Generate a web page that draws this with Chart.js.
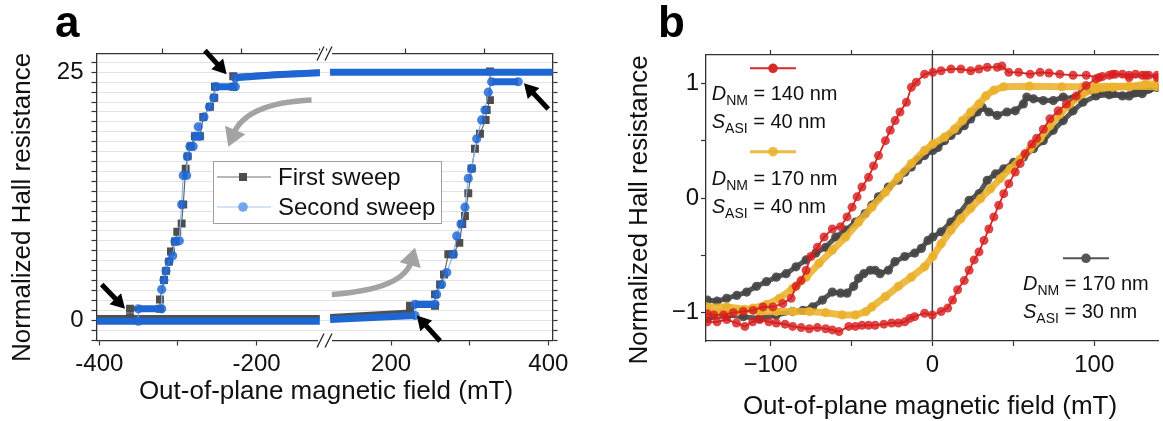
<!DOCTYPE html>
<html>
<head>
<meta charset="utf-8">
<title>Hall resistance hysteresis</title>
<script src="https://cdn.jsdelivr.net/npm/chart.js@4.4.1/dist/chart.umd.min.js"></script>
<style>
  html, body { margin: 0; padding: 0; background: #fff; }
  #wrap { position: relative; width: 1163px; height: 421px; overflow: hidden; }
  canvas { position: absolute; top: 0; }
  #panelA { left: 0; }
  #panelB { left: 580px; }
</style>
</head>
<body>
<div id="wrap">
  <canvas id="panelA" width="580" height="421"></canvas>
  <canvas id="panelB" width="583" height="421"></canvas>
</div>
<script>
const FONT = '"Liberation Sans", Arial, Helvetica, sans-serif';
Chart.defaults.font.family = FONT;
Chart.defaults.color = '#111';

// ---------- Panel a: [field (mT), normalized Hall resistance] ----------
const sweepNames = ['First sweep', 'Second sweep'];
// negative side of the broken axis
const firstLeft = [
  [-119.6, 25.05], [-175, 24.85], [-229.7, 24.6], [-229.7, 23.55], [-253, 23.55], [-253.9, 22.43],
  [-259.3, 21.52], [-267.8, 20.5], [-272, 18.55], [-278.4, 18.55], [-283.9, 17.53], [-287.7, 16.52],
  [-290.2, 15.27], [-293.3, 11.66], [-295.3, 9.76], [-300.9, 8.92], [-303.8, 7.94], [-308.9, 6.93],
  [-311.4, 5.91], [-315.2, 4.97], [-317.8, 4.05], [-322.9, 2.09], [-322.9, 1.15], [-361, 1.15],
  [-361, 0.3], [-403.6, 0.3], [-119.6, 0.3]
];
const secondLeft = [
  [-119.6, 24.95], [-175, 24.75], [-227, 24.45], [-227, 23.55], [-252, 23.55], [-254.5, 22.43],
  [-260, 21.52], [-267, 20.5], [-274.2, 19.5], [-272.5, 18.55], [-278, 18.55], [-280.6, 17.53],
  [-284.8, 17.53], [-288, 16.52], [-289, 14.6], [-293.3, 14.6], [-295.3, 11.66], [-298.3, 8.0],
  [-303.8, 7.94], [-306.7, 6.5], [-311.4, 5.91], [-315.2, 4.97], [-317.8, 4.05], [-320.7, 3.1],
  [-320.7, 1.15], [-350.4, 1.15], [-350.4, -0.1], [-403.6, -0.1], [-119.6, -0.1]
];
// positive side of the broken axis
const firstRight = [
  [406, 25.1], [122.5, 25.1], [122.5, null],
  [122.5, 0.4], [224.1, 0.85], [224.1, 1.45], [255.9, 1.45], [255.9, 2.6], [262.3, 3.6], [267.3, 4.6],
  [272.8, 6.65], [279, 6.65], [286.8, 7.8], [290.6, 9.7], [294, 10.5], [298.2, 12.8], [302.5, 15.3],
  [306.7, 17.3], [313.1, 18.8], [320.3, 20.2], [321.6, 21.2], [325.8, 22.2], [325.8, 25.1]
];
const secondRight = [
  [406, 25.0], [122.5, 25.0], [122.5, null],
  [122.5, 0.07], [230.5, 0.47], [230.5, 1.6], [255.9, 1.6], [258, 2.6], [264.4, 3.6], [270.8, 4.8],
  [279.2, 6.65], [283.5, 8.5], [288.9, 9.7], [294, 11.4], [298.2, 14.3], [302.5, 15.3], [308.9, 18.3],
  [315.2, 20.2], [319.4, 21.2], [323.6, 23.0], [327.9, 24.05], [361.7, 24.05]
];
const xTickMarksLeft = [-400, -300, -200];
const xTickMarksRight = [200, 300, 400];
const xTicksA = [-400, -200, 200, 400];
const yTicksA = [0, 25];

// ---------- Panel b: [field (mT), normalized Hall resistance] ----------
const dnmValues = [140, 170, 170];
const sasiValues = [40, 40, 30];
const redDown = [
  [138.8, 1.07], [131.7, 1.07], [121.5, 1.05], [111.3, 1.08], [103, 1.05], [95, 1.07], [86.9, 1.07],
  [78.7, 1.08], [72, 1.09], [66.5, 1.096], [60.4, 1.08], [53.3, 1.096], [47.2, 1.096], [43, 1.15],
  [40, 1.14], [33.9, 1.14], [28.8, 1.125], [23.7, 1.11], [17.6, 1.125], [11.5, 1.125], [5.4, 1.11],
  [0.3, 1.096], [-4.8, 1.08], [-9.9, 1.01], [-13, 0.965], [-16, 0.835], [-20, 0.75], [-23, 0.675],
  [-26, 0.59], [-29, 0.5], [-33.3, 0.37], [-36.3, 0.28], [-39.4, 0.18], [-43.5, 0.096], [-46.5, 0.01],
  [-49.6, -0.08], [-52.7, -0.165], [-56.7, -0.25], [-61.8, -0.27], [-66.9, -0.34], [-71, -0.43],
  [-75, -0.51], [-78, -0.63], [-81.1, -0.72], [-84.2, -0.77], [-87.2, -0.875], [-92.4, -0.92],
  [-98.5, -0.95], [-104.6, -0.95], [-110.7, -0.98], [-116.8, -0.99], [-122.9, -1.0], [-129, -1.02],
  [-135, -1.02], [-139, -1.01]
];
const redUp = [
  [-139, -1.08], [-133, -1.08], [-127, -1.06], [-121, -1.09], [-115.8, -1.12], [-111, -1.08],
  [-106.6, -1.06], [-101, -1.08], [-96.4, -1.09], [-91, -1.1], [-86.3, -1.12], [-81, -1.13],
  [-76, -1.14], [-71, -1.13], [-65.9, -1.14], [-61.8, -1.15], [-57.7, -1.165], [-51.6, -1.12],
  [-47.5, -1.12], [-43.5, -1.11], [-39.4, -1.11], [-35.3, -1.11], [-30, -1.1], [-25.2, -1.09],
  [-21, -1.09], [-17, -1.08], [-13.9, -1.05], [-10.9, -1.035], [-4.8, -1.005], [0, -1.02],
  [5.4, -0.99], [9.5, -0.96], [12.5, -0.89], [15.6, -0.8], [19.7, -0.72], [22.7, -0.63], [25.8, -0.54],
  [28.8, -0.47], [31.9, -0.37], [34.9, -0.27], [38, -0.165], [41, -0.063], [44.1, 0.038], [47.2, 0.125],
  [51.2, 0.226], [54.2, 0.3], [57.3, 0.386], [61.4, 0.47], [64.4, 0.52], [68.5, 0.6], [72.6, 0.69],
  [77.7, 0.76], [82.8, 0.82], [88.9, 0.89], [95, 0.98], [101, 1.04], [105, 1.06], [109.2, 1.07],
  [113, 1.08], [117.4, 1.08], [121.5, 1.07], [125.5, 1.08], [129.6, 1.07], [133.7, 1.07], [138.8, 1.05]
];
const yellowDown = [
  [138.8, 0.97], [121.5, 0.975], [101, 0.975], [93, 0.97], [80, 0.97], [60, 0.975], [44, 0.97],
  [38, 0.94], [33, 0.89], [28.8, 0.82], [23.7, 0.75], [18.6, 0.675], [13.6, 0.6], [7.5, 0.53],
  [0.3, 0.47], [-4.8, 0.415], [-13, 0.3], [-21, 0.18], [-29, 0.05], [-37.4, -0.08], [-45.5, -0.21],
  [-53.6, -0.34], [-61.8, -0.455], [-70, -0.57], [-78, -0.69], [-86.3, -0.79], [-94.4, -0.875],
  [-102.5, -0.93], [-110.7, -0.96], [-120.8, -0.99], [-131, -1.0], [-139, -1.0]
];
const yellowUp = [
  [-139, -0.95], [-127, -0.95], [-116, -0.97], [-106, -0.99], [-96.4, -0.99], [-86, -0.99],
  [-76, -0.99], [-66, -1.0], [-55.7, -1.02], [-47.5, -1.02], [-41, -0.99], [-37.4, -0.95],
  [-29, -0.86], [-21, -0.77], [-13, -0.69], [-4.8, -0.6], [0.3, -0.51], [5.4, -0.4], [11.5, -0.28],
  [17.6, -0.18], [23.7, -0.09], [29.8, -0.005], [35.9, 0.08], [42, 0.17], [48.1, 0.255], [54.2, 0.34],
  [60.4, 0.43], [66.5, 0.52], [72.6, 0.63], [78.7, 0.73], [84.8, 0.82], [93, 0.91], [101, 0.95],
  [111.3, 0.965], [121.5, 0.97], [131.7, 0.995], [138.8, 0.995]
];
const greyDown = [
  [138.8, 0.965], [129.6, 0.91], [121.5, 0.89], [111.3, 0.91], [101, 0.92], [93, 0.94], [86.9, 0.865],
  [80.8, 0.88], [74.7, 0.85], [68.5, 0.85], [62.4, 0.865], [58.3, 0.88], [56.2, 0.82], [51.2, 0.76],
  [46.1, 0.75], [40, 0.72], [34.9, 0.75], [30.8, 0.79], [27.8, 0.75], [23.7, 0.69], [19.7, 0.63],
  [15.6, 0.59], [11.5, 0.545], [7.5, 0.5], [3.4, 0.44], [0.3, 0.415], [-4.8, 0.37], [-8.9, 0.33],
  [-13, 0.27], [-17, 0.225], [-21, 0.155], [-27.2, 0.096], [-33.3, 0.01], [-37.4, -0.063],
  [-41.5, -0.135], [-47.5, -0.21], [-53.6, -0.28], [-59.7, -0.34], [-65.9, -0.43], [-72, -0.48],
  [-78, -0.54], [-84.2, -0.6], [-90.3, -0.66], [-96.4, -0.69], [-102.5, -0.73], [-108.6, -0.77],
  [-114.7, -0.82], [-120.8, -0.85], [-127, -0.875], [-133, -0.9], [-139, -0.89]
];
const greyUp = [
  [-139, -1.05], [-127, -1.02], [-116.8, -1.035], [-106.6, -1.05], [-96.4, -1.02], [-86.3, -0.99],
  [-80, -0.98], [-74, -0.95], [-67.9, -0.89], [-61.8, -0.82], [-56.7, -0.83], [-52.7, -0.83],
  [-48.6, -0.77], [-45.5, -0.7], [-42.4, -0.66], [-38.4, -0.63], [-35.3, -0.63], [-32.3, -0.66],
  [-27.2, -0.63], [-23.1, -0.555], [-17, -0.51], [-10.9, -0.48], [-6.8, -0.44], [-2.7, -0.37],
  [0.3, -0.34], [5.4, -0.295], [11.5, -0.21], [16.6, -0.135], [22.7, -0.02], [28.8, 0.038],
  [33.9, 0.155], [39, 0.21], [44.1, 0.255], [50.2, 0.31], [56.3, 0.357], [62.4, 0.43], [68.5, 0.5],
  [74.6, 0.59], [80.8, 0.675], [86.9, 0.76], [93, 0.835], [101, 0.89], [109.2, 0.9], [117.4, 0.89],
  [125.5, 0.92], [133.7, 0.95], [138.8, 0.965]
];
const xTicksB = [-100, 0, 100];
const yTicksB = [-1, 0, 1];

const xTitle = 'Out-of-plane magnetic field (mT)';
const yTitle = 'Normalized Hall resistance';

const pts = a => a.map(([x, y]) => ({ x, y }));
const minus = v => String(v).replace('-', '\u2212');
const tickFont = { family: FONT, size: 24 };
const axisLine = { color: '#333', width: 1.3 };

// flat runs of densely packed markers show as thick bands
const flat = c => Math.abs(c.p1.parsed.y - c.p0.parsed.y) < 0.5 && Math.abs(c.p1.parsed.x - c.p0.parsed.x) >= 4;
// points that only join long flat bands get no marker of their own
function bandRadius(r) {
  return ctx => {
    const d = ctx.dataset.data, i = ctx.dataIndex, p = d[i];
    if (!p || p.y == null) return 0;
    const nb = [d[i - 1], d[i + 1]].filter(q => q && q.y != null);
    const inBand = nb.length && nb.every(q => Math.abs(q.y - p.y) < 0.5 && Math.abs(q.x - p.x) > 40);
    return inBand ? 0 : r;
  };
}

// ---------- helpers for annotations ----------
function head(c, fx, fy, tx, ty, len, half) {
  const a = Math.atan2(ty - fy, tx - fx);
  c.beginPath();
  c.moveTo(tx, ty);
  c.lineTo(tx - len * Math.cos(a) + half * Math.sin(a), ty - len * Math.sin(a) - half * Math.cos(a));
  c.lineTo(tx - len * Math.cos(a) - half * Math.sin(a), ty - len * Math.sin(a) + half * Math.cos(a));
  c.closePath();
  c.fill();
}

// arrow anchors in data space: [x axis, tail x, tail y, tip x, tip y]
const blackArrows = [
  ['xL', -265.7, 27.2, -238.1, 24.8],
  ['xL', -397, 3.6, -367.3, 1.15],
  ['xR', 399.9, 21.3, 369, 23.9],
  ['xR', 262.3, -2.1, 232.7, 0.48]
];
// [x axis, tail x, tail y, bend x, bend y, tip x, tip y]
const greyArrows = [
  ['xL', -130.1, 22.2, -213, 21.9, -236, 17.5],
  ['xR', 124.7, 2.6, 215.8, 3.1, 230.5, 7.3]
];

const decorA = {
  id: 'decorA',
  afterDatasetsDraw(chart) {
    const c = chart.ctx, s = chart.scales, y = s.yL;
    c.save();
    // sweep direction arrows
    c.strokeStyle = '#a3a3a3'; c.fillStyle = '#a3a3a3'; c.lineWidth = 5.5; c.lineCap = 'butt';
    greyArrows.forEach(([ax, x0, y0, x1, y1, x2, y2]) => {
      const X = s[ax];
      const p0 = [X.getPixelForValue(x0), y.getPixelForValue(y0)];
      const p1 = [X.getPixelForValue(x1), y.getPixelForValue(y1)];
      const p2 = [X.getPixelForValue(x2), y.getPixelForValue(y2)];
      const a = Math.atan2(p2[1] - p1[1], p2[0] - p1[0]);
      const end = [p2[0] - 14 * Math.cos(a), p2[1] - 14 * Math.sin(a)];
      c.beginPath(); c.moveTo(p0[0], p0[1]); c.quadraticCurveTo(p1[0], p1[1], end[0], end[1]); c.stroke();
      head(c, p1[0], p1[1], p2[0], p2[1], 18, 11);
    });
    // switching markers
    c.strokeStyle = '#000'; c.fillStyle = '#000'; c.lineWidth = 5;
    blackArrows.forEach(([ax, x0, y0, x1, y1]) => {
      const X = s[ax];
      const fx = X.getPixelForValue(x0), fy = y.getPixelForValue(y0);
      const tx = X.getPixelForValue(x1), ty = y.getPixelForValue(y1);
      const a = Math.atan2(ty - fy, tx - fx);
      c.beginPath(); c.moveTo(fx, fy); c.lineTo(tx - 10 * Math.cos(a), ty - 10 * Math.sin(a)); c.stroke();
      head(c, fx, fy, tx, ty, 14, 8);
    });
    // axis break marks
    const xb = s.xL.right, area = chart.chartArea;
    [area.top, area.bottom].forEach(yb => {
      c.fillStyle = '#fff'; c.fillRect(xb - 7, yb - 3, 14, 6);
      c.strokeStyle = '#222'; c.lineWidth = 1.3;
      for (let i = 0; i < 2; i++) {
        const x0 = xb - 8 + i * 8;
        c.beginPath(); c.moveTo(x0, yb + 7); c.lineTo(x0 + 7, yb - 7); c.stroke();
      }
    });
    // legend box
    c.fillStyle = '#fff'; c.fillRect(213.5, 161.5, 228, 62);
    c.strokeStyle = '#a0a0a0'; c.lineWidth = 1; c.strokeRect(213.5, 161.5, 228, 62);
    c.lineWidth = 1.2; c.strokeStyle = '#707070';
    c.beginPath(); c.moveTo(217, 177); c.lineTo(271, 177); c.stroke();
    c.fillStyle = '#4d4d4d'; c.fillRect(239, 173, 8, 8);
    c.strokeStyle = '#a5c6f2';
    c.beginPath(); c.moveTo(217, 207); c.lineTo(271, 207); c.stroke();
    c.fillStyle = '#72a6ec'; c.beginPath(); c.arc(243, 207, 4.8, 0, Math.PI * 2); c.fill();
    c.fillStyle = '#111'; c.font = `24px ${FONT}`; c.textAlign = 'left'; c.textBaseline = 'middle';
    c.fillText(sweepNames[0], 278, 178);
    c.fillText(sweepNames[1], 278, 208);
    c.restore();
  },
  afterDraw(chart) {
    const c = chart.ctx;
    c.save();
    c.fillStyle = '#111'; c.font = `26px ${FONT}`; c.textAlign = 'center'; c.textBaseline = 'middle';
    c.fillText(xTitle, 326, 392);
    c.translate(23, 207.5); c.rotate(-Math.PI / 2); c.fillText(yTitle, 0, 0);
    c.restore();
    c.save();
    c.fillStyle = '#000'; c.font = `bold 44px ${FONT}`; c.textAlign = 'left'; c.textBaseline = 'alphabetic';
    c.fillText('a', 55, 37);
    c.restore();
  }
};

function xAxisA(min, max, pos, weight, marks, labelled) {
  return {
    type: 'linear', position: pos, stack: pos, stackWeight: weight, min, max,
    grid: { drawOnChartArea: false, tickLength: 5, tickColor: '#333', tickWidth: 1.2 },
    border: axisLine,
    afterBuildTicks: sc => { sc.ticks = marks.map(v => ({ value: v })); },
    ticks: {
      autoSkip: false, maxRotation: 0, padding: 4, font: tickFont, color: '#111',
      callback: v => (labelled && xTicksA.includes(v)) ? String(v) : ''
    },
    afterFit: sc => { sc.height = pos === 'bottom' ? 80.5 : 53.5; }
  };
}
function yAxisA(pos, width, labelled) {
  return {
    type: 'linear', position: pos, min: -2.05, max: 26.9,
    grid: { drawOnChartArea: labelled, color: '#e3e3e3', lineWidth: 1, tickLength: 5, tickColor: '#333', tickWidth: 1.2 },
    border: axisLine,
    ticks: {
      stepSize: 1, includeBounds: false, autoSkip: false, padding: 8, font: tickFont, color: '#111',
      callback: v => (labelled && yTicksA.includes(v)) ? String(v) : ''
    },
    afterFit: sc => { sc.width = width; }
  };
}

function sweepSet(data, xId, first) {
  return {
    data: pts(data), xAxisID: xId, yAxisID: 'yL', order: first ? 1 : 0, spanGaps: false,
    borderWidth: 1.2, borderColor: first ? '#666' : '#8ab4ee',
    pointStyle: first ? 'rect' : 'circle', pointRadius: bandRadius(first ? 5.6 : 4.6), pointBorderWidth: 0,
    pointBackgroundColor: first ? '#4d4d4d' : 'rgba(30,102,212,0.82)',
    segment: {
      borderWidth: c => flat(c) ? (first ? 4.5 : 7) : 1.2,
      borderColor: c => flat(c) ? (first ? '#505050' : '#1e67d2') : (first ? '#666' : '#8ab4ee')
    }
  };
}

new Chart(document.getElementById('panelA'), {
  type: 'line',
  data: {
    datasets: [
      sweepSet(firstLeft, 'xL', true), sweepSet(firstRight, 'xR', true),
      sweepSet(secondLeft, 'xL', false), sweepSet(secondRight, 'xR', false)
    ]
  },
  options: {
    responsive: false, animation: false, events: [],
    layout: { padding: 0 },
    elements: { line: { tension: 0 } },
    plugins: { legend: { display: false }, tooltip: { enabled: false } },
    scales: {
      xL: xAxisA(-403.6, -113, 'bottom', 228.5, xTickMarksLeft, true),
      xR: xAxisA(116, 405.3, 'bottom', 227.5, xTickMarksRight, true),
      xLt: xAxisA(-403.6, -113, 'top', 228.5, xTickMarksLeft, false),
      xRt: xAxisA(116, 405.3, 'top', 227.5, xTickMarksRight, false),
      yL: yAxisA('left', 96.5, true),
      yR: yAxisA('right', 27.5, false)
    }
  },
  plugins: [decorA]
});

// ---------- Panel b ----------
const colRed = 'rgba(215,30,30,0.82)';
const colYellow = 'rgba(236,178,45,0.88)';
const colGrey = 'rgba(70,70,70,0.9)';

function loopSet(data, col, line, lineW, r, order) {
  return {
    data: pts(data), order, borderColor: line, borderWidth: lineW,
    pointRadius: r, pointBorderWidth: 0, pointBackgroundColor: col
  };
}

const legendRows = [
  { col: '#d42a2a', lw: 2, sx: 170, sy: 68.3, tx: 131.7, ty: 100 },
  { col: 'rgba(236,178,45,0.9)', lw: 3, sx: 170, sy: 151.7, tx: 131.7, ty: 185 },
  { col: '#555', lw: 2, sx: 483, sy: 258.3, tx: 443, ty: 290 }
];

function subLabel(c, x, y, main, sub, rest) {
  c.font = `italic 20px ${FONT}`; c.fillText(main, x, y); x += c.measureText(main).width;
  c.font = `14px ${FONT}`; c.fillText(sub, x, y + 5); x += c.measureText(sub).width;
  c.font = `20px ${FONT}`; c.fillText(rest, x, y);
}

const decorB = {
  id: 'decorB',
  beforeDatasetsDraw(chart) {
    const c = chart.ctx, a = chart.chartArea, x0 = chart.scales.x.getPixelForValue(0);
    c.save(); c.strokeStyle = '#444'; c.lineWidth = 1.5;
    c.beginPath(); c.moveTo(x0, a.top); c.lineTo(x0, a.bottom); c.stroke();
    c.restore();
  },
  afterDraw(chart) {
    const c = chart.ctx;
    c.save();
    legendRows.forEach((r, i) => {
      c.strokeStyle = r.col; c.lineWidth = r.lw;
      c.beginPath(); c.moveTo(r.sx, r.sy); c.lineTo(r.sx + 46, r.sy); c.stroke();
      c.fillStyle = r.col; c.beginPath(); c.arc(r.sx + 23, r.sy, 4.8, 0, Math.PI * 2); c.fill();
      c.fillStyle = '#111'; c.textAlign = 'left'; c.textBaseline = 'alphabetic';
      subLabel(c, r.tx, r.ty, 'D', 'NM', ` = ${dnmValues[i]} nm`);
      subLabel(c, r.tx, r.ty + 27.5, 'S', 'ASI', ` = ${sasiValues[i]} nm`);
    });
    c.fillStyle = '#111'; c.font = `26px ${FONT}`; c.textAlign = 'center'; c.textBaseline = 'middle';
    c.fillText(xTitle, 350, 407);
    c.save(); c.translate(60, 210); c.rotate(-Math.PI / 2); c.fillText(yTitle, 0, 0); c.restore();
    c.fillStyle = '#000'; c.font = `bold 44px ${FONT}`; c.textAlign = 'left'; c.textBaseline = 'alphabetic';
    c.fillText('b', 78, 37);
    c.restore();
  }
};

function xAxisB(pos, labelled) {
  return {
    type: 'linear', position: pos, min: -139.8, max: 139.6,
    grid: { drawOnChartArea: false, tickLength: 5, tickColor: '#333', tickWidth: 1.2 },
    border: axisLine,
    ticks: {
      stepSize: 50, includeBounds: false, autoSkip: false, maxRotation: 0, padding: 5, font: tickFont, color: '#111',
      callback: v => (labelled && xTicksB.includes(v)) ? minus(v) : ''
    },
    afterFit: sc => { sc.height = pos === 'bottom' ? 80 : 55; }
  };
}

new Chart(document.getElementById('panelB'), {
  type: 'line',
  data: {
    datasets: [
      loopSet(redDown, colRed, '#d42a2a', 1.8, 4.5, 0),
      loopSet(redUp, colRed, '#d42a2a', 1.8, 4.5, 0),
      loopSet(yellowDown, colYellow, colYellow, 7, 4.6, 1),
      loopSet(yellowUp, colYellow, colYellow, 7, 4.6, 1),
      loopSet(greyDown, colGrey, colGrey, 5, 4.6, 2),
      loopSet(greyUp, colGrey, colGrey, 5, 4.6, 2)
    ]
  },
  options: {
    responsive: false, animation: false, events: [],
    layout: { padding: 0 },
    elements: { line: { tension: 0 } },
    plugins: { legend: { display: false }, tooltip: { enabled: false } },
    scales: {
      x: xAxisB('bottom', true),
      x2: xAxisB('top', false),
      y: {
        type: 'linear', position: 'left', min: -1.247, max: 1.247,
        grid: { drawOnChartArea: false, tickLength: 5, tickColor: '#333', tickWidth: 1.2 },
        border: axisLine,
        ticks: {
          stepSize: 0.5, includeBounds: false, autoSkip: false, padding: 2, font: tickFont, color: '#111',
          callback: v => yTicksB.includes(v) ? minus(v) : ''
        },
        afterFit: sc => { sc.width = 126; }
      }
    }
  },
  plugins: [decorB]
});
</script>
</body>
</html>
